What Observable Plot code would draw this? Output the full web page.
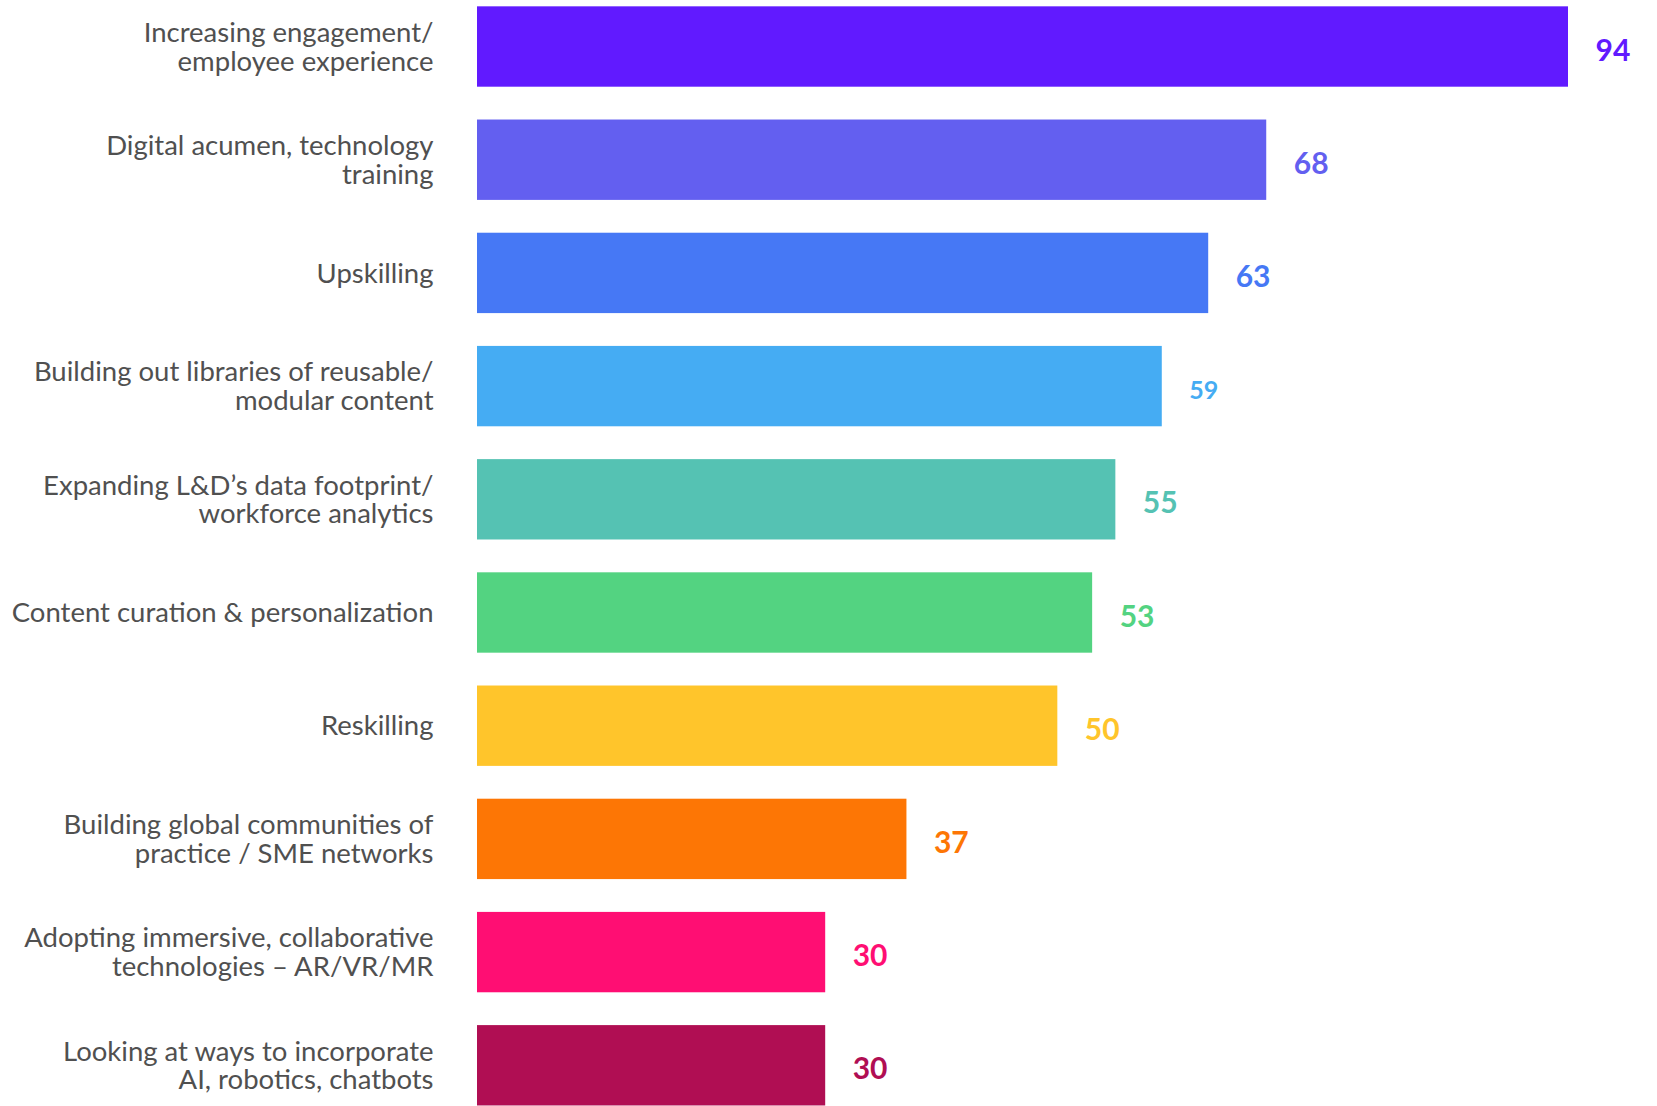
<!DOCTYPE html>
<html>
<head>
<meta charset="utf-8">
<script src="https://cdn.jsdelivr.net/npm/d3@7"></script>
<script src="https://cdn.jsdelivr.net/npm/@observablehq/plot@0.6"></script>
<style>
  html, body { margin: 0; padding: 0; background: #fff; }
  #chart svg { display: block; }
</style>
</head>
<body>
<div id="chart"></div>
<script>
const categories = [
  "Increasing engagement/\nemployee experience",
  "Digital acumen, technology\ntraining",
  "Upskilling",
  "Building out libraries of reusable/\nmodular content",
  "Expanding L&D’s data footprint/\nworkforce analytics",
  "Content curation & personalization",
  "Reskilling",
  "Building global communities of\npractice / SME networks",
  "Adopting immersive, collaborative\ntechnologies – AR/VR/MR",
  "Looking at ways to incorporate\nAI, robotics, chatbots"
];
const values = [94, 68, 63, 59, 55, 53, 50, 37, 30, 30];
const colors = ["#611AFF", "#635FF0", "#4678F5", "#45ACF3", "#55C2B3", "#53D381", "#FFC52B", "#FD7605", "#FF0E73", "#B00E53"];

const data = categories.map((c, i) => ({category: c, value: values[i], color: colors[i]}));

const chart = Plot.plot({
  width: 1657,
  height: 1106,
  marginLeft: 477,
  marginRight: 89,
  marginTop: 0,
  marginBottom: 0,
  x: {domain: [0, 94], axis: null},
  y: {domain: categories, range: [-26.5, 1138.3], padding: 0.29, round: false, axis: null},
  style: {background: "#fff"},
  marks: [
    Plot.barX(data, {x: "value", y: "category", fill: "color"}),
    Plot.text(data, {
      x: 0, y: "category", text: "category",
      textAnchor: "end", dx: -44, lineHeight: 1.05,
      fontSize: 27.5, fill: "#505050", fontFamily: "Lato", fontWeight: 400
    }),
    Plot.text(data, {
      x: "value", y: "category", text: d => String(d.value),
      textAnchor: "start", dx: 27, dy: 4,
      fontSize: d => d.value === 59 ? 25 : 30,
      fill: "color", fontFamily: "Lato", fontWeight: 700
    })
  ]
});
document.getElementById("chart").appendChild(chart);
</script>
</body>
</html>
